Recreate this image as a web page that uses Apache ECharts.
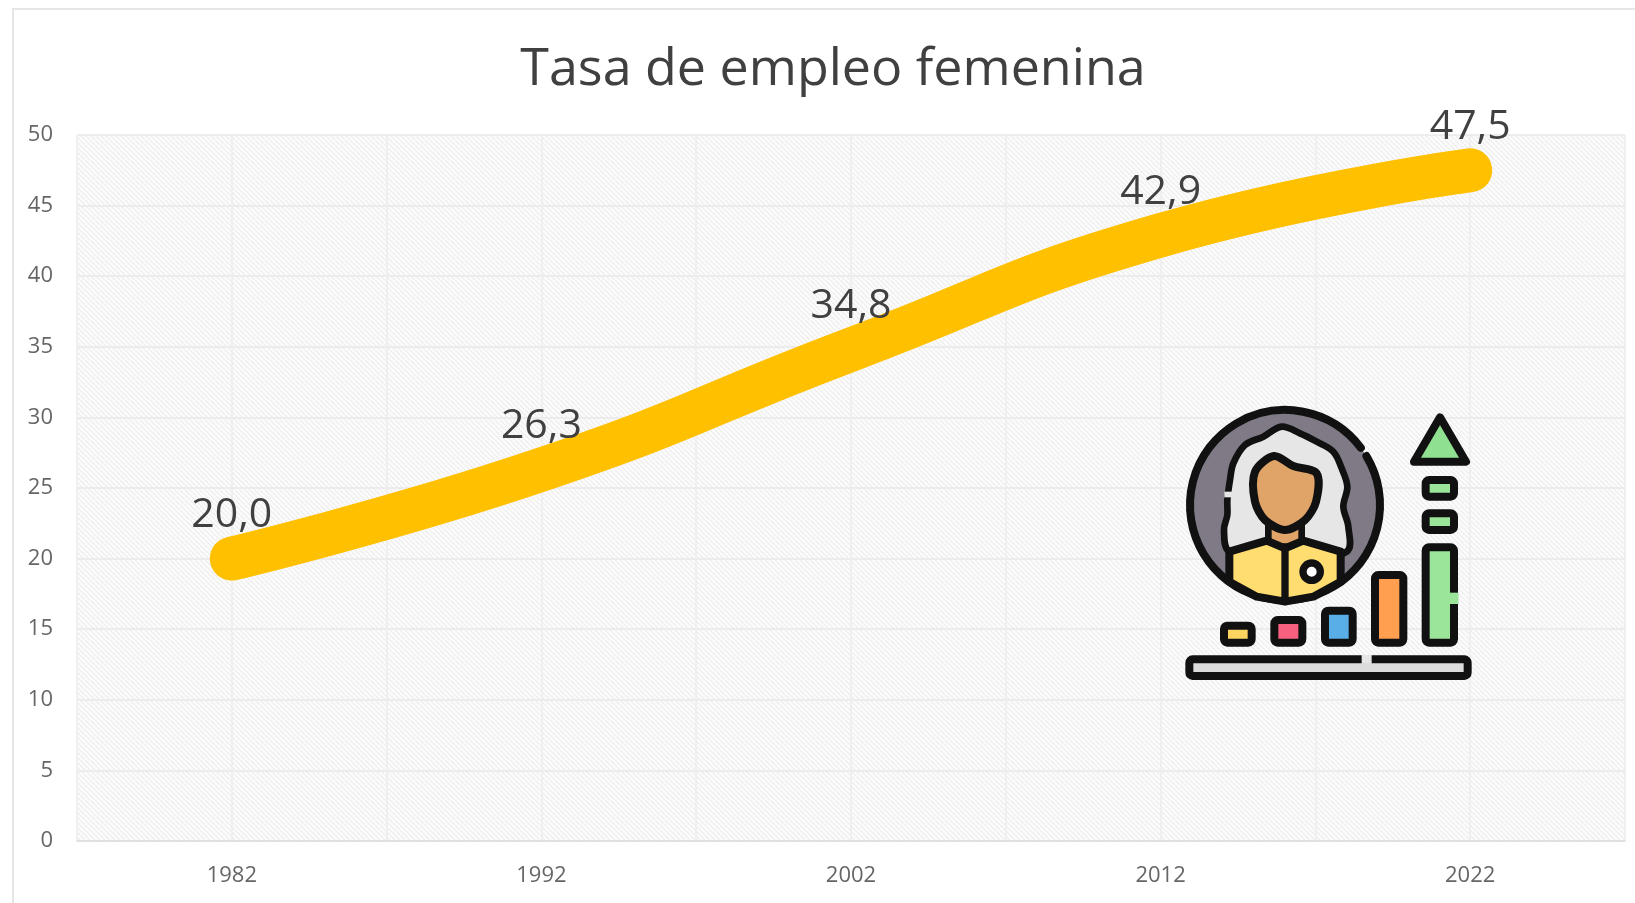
<!DOCTYPE html>
<html><head><meta charset="utf-8">
<style>html,body{margin:0;padding:0;background:#fff}#c{width:1635px;height:903px}</style>
<script src="https://cdn.jsdelivr.net/npm/echarts@6/dist/echarts.min.js"></script>
</head><body><div id="c"></div>
<script>
const titleText = 'Tasa de empleo femenina';
const years = ['1982','1992','2002','2012','2022'];
const rates = [20.0, 26.3, 34.8, 42.9, 47.5];
const yTicks = {min:0, max:50, interval:5};

function hatch(){
  const s=5, c=document.createElement('canvas'); c.width=s; c.height=s;
  const g=c.getContext('2d');
  g.fillStyle='#fcfcfc'; g.fillRect(0,0,s,s);
  g.strokeStyle='#eeeeee'; g.lineWidth=1.4;
  for(let i=-s;i<=s;i+=s){g.beginPath();g.moveTo(i,0);g.lineTo(i+s,s);g.stroke();}
  return c;
}
const K='#111111', SW=24, Z=100;
const bar=(x0,y0,x1,y1,fill)=>({type:'rect',z:Z,shape:{x:x0,y:y0,width:x1-x0,height:y1-y0,r:10},style:{fill,stroke:K,lineWidth:SW,lineJoin:'round'}});
const line=(x1,y1,x2,y2,stroke,w,cap)=>({type:'line',z:Z,shape:{x1,y1,x2,y2},style:{stroke,lineWidth:w,lineCap:cap||'round'}});
const icon=[
 {type:'circle',z:Z,shape:{cx:405,cy:375,r:285},style:{fill:'#7f7a85'}},
 {type:'polygon',z:Z,shape:{smooth:0.35,points:[[238,515],[222,450],[232,405],[232,360],[240,300],[250,250],[285,195],[340,170],[395,140],[450,160],[500,185],[550,215],[575,265],[592,320],[580,380],[595,440],[590,515],[405,560]]},style:{fill:'#e6e6e6',stroke:K,lineWidth:20,lineJoin:'round'}},
 line(236,335,236,352,'#e6e6e6',26,'butt'),
 {type:'arc',z:Z,shape:{cx:405,cy:375,r:285,startAngle:-31*Math.PI/180,endAngle:-37*Math.PI/180,clockwise:true},style:{fill:'none',stroke:K,lineWidth:SW,lineCap:'round'}},
 {type:'rect',z:Z,shape:{x:355,y:430,width:100,height:70},style:{fill:'#e0a468',stroke:K,lineWidth:20}},
 {type:'polygon',z:Z,shape:{smooth:0.3,points:[[315,275],[372,228],[430,258],[500,280],[498,365],[465,420],[405,450],[345,420],[315,365]]},style:{fill:'#e0a468',stroke:K,lineWidth:SW,lineJoin:'round'}},
 {type:'polygon',z:Z,shape:{points:[[238,515],[350,482],[405,505],[460,482],[572,515],[572,605],[490,650],[405,665],[320,650],[238,605]]},style:{fill:'#ffdd70',stroke:K,lineWidth:SW,lineJoin:'round'}},
 line(405,505,405,660,K,22),
 {type:'circle',z:Z,shape:{cx:485,cy:575,r:26},style:{fill:'#fff',stroke:K,lineWidth:22}},
 bar(222,737,305,788,'#ffd560'),
 bar(373,720,457,788,'#f7607f'),
 bar(525,692,608,788,'#5aaee8'),
 bar(675,585,760,788,'#ff9f4f'),
 bar(827,502,912,788,'#9be59b'),
 line(912,638,912,672,'#9be59b',27,'butt'),
 bar(827,300,912,350,'#9be59b'),
 bar(827,400,912,450,'#9be59b'),
 {type:'polygon',z:Z,shape:{points:[[870,112],[948,245],[792,245]]},style:{fill:'#8fe090',stroke:K,lineWidth:SW,lineJoin:'round'}},
 bar(118,838,953,888,'#dcdcdc'),
 line(635,838,665,838,'#e6e6e6',27,'butt'),
];

const chart=echarts.init(document.getElementById('c'),null,{renderer:'canvas'});
chart.setOption({
  animation:false,
  backgroundColor:'#fff',
  textStyle:{fontFamily:'"Open Sans"'},
  title:{text:titleText,left:828,top:39,textAlign:'center',
    textStyle:{fontFamily:'"Open Sans"',fontSize:52,fontWeight:'normal',color:'#404040'}},
  grid:{left:77,right:10,top:135,bottom:62,show:true,borderWidth:0,
    backgroundColor:{image:hatch(),repeat:'repeat'}},
  xAxis:[
   {type:'category',data:years,boundaryGap:true,
    axisLine:{lineStyle:{color:'#dddddd',width:1.5}},axisTick:{show:false},
    axisLabel:{fontSize:22,color:'#666666',margin:24,fontFamily:'"Open Sans"'},
    splitLine:{show:false}},
   {type:'value',min:0,max:10,interval:1,position:'bottom',
    axisLine:{show:false},axisTick:{show:false},axisLabel:{show:false},
    splitLine:{show:true,lineStyle:{color:'#ececec',width:1.5}}}
  ],
  yAxis:{type:'value',min:yTicks.min,max:yTicks.max,interval:yTicks.interval,
    axisLine:{show:false},axisTick:{show:false},
    axisLabel:{fontSize:22,color:'#666666',margin:24,fontFamily:'"Open Sans"'},
    splitLine:{show:true,lineStyle:{color:'#e9e9e9',width:1.5}}},
  series:[{type:'line',data:rates,smooth:true,xAxisIndex:0,
    symbol:'circle',symbolSize:1,
    lineStyle:{color:'#ffc000',width:44,cap:'round',join:'round'},
    itemStyle:{color:'#ffc000'},
    label:{show:true,position:'top',distance:22,fontSize:41,color:'#404040',fontFamily:'"Open Sans"',
      formatter:p=>p.value.toFixed(1).replace('.',',')}}],
  graphic:[
    {type:'rect',z:-1,silent:true,shape:{x:13,y:9,width:1800,height:1100},style:{fill:'none',stroke:'#e6e6e6',lineWidth:2}},
    {type:'group',x:1150,y:380,scaleX:1/3,scaleY:1/3,silent:true,children:icon}
  ]
});
</script></body></html>
